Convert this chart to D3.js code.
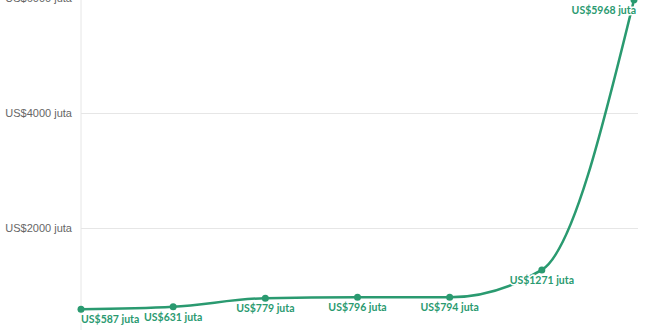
<!DOCTYPE html>
<html>
<head>
<meta charset="utf-8">
<script src="https://cdn.jsdelivr.net/npm/d3@7"></script>
<style>
  body { margin: 0; background: #fff; }
  svg { display: block; font-family: 'Source Sans Pro', Lato, 'Noto Sans', sans-serif; }
</style>
</head>
<body>
<svg id="main"></svg>
<script>
// data
let periods = ['p1', 'p2', 'p3', 'p4', 'p5', 'p6', 'p7']
let values = [587, 631, 779, 796, 794, 1271, 5968]
let yTicks = [2000, 4000, 6000]

let width = 660
let height = 330
let color = '#2a9a70'

let svg = d3.select('#main')
    .attr('width', width)
    .attr('height', height)

let xScale = d3.scalePoint()
    .domain(periods)
    .range([81, 634])

let yScale = d3.scaleLinear()
    .domain([0, 6000])
    .range([343, -2])

// gridlines + tick labels
let yAxis = d3.axisLeft(yScale)
    .tickValues(yTicks)
    .tickSize(-(638 - 81))
    .tickPadding(9)
    .tickFormat(d => `US$${d} juta`)

let yg = svg.append('g')
    .attr('transform', 'translate(81, 0)')
    .call(yAxis)
yg.select('.domain').remove()
yg.selectAll('line').attr('stroke', '#e6e6e6')
yg.selectAll('text')
    .attr('fill', '#666')
    .style('font-size', '11px')

// left axis line
svg.append('line')
    .attr('x1', 81).attr('x2', 81)
    .attr('y1', 0).attr('y2', height)
    .attr('stroke', '#e6e6e6')

let line = d3.line()
    .x((d, i) => xScale(periods[i]))
    .y(d => yScale(d))
    .curve(d3.curveMonotoneX)

svg.append('path')
    .datum(values)
    .attr('d', line)
    .attr('fill', 'none')
    .attr('stroke', color)
    .attr('stroke-width', 2.5)

svg.selectAll('circle')
    .data(values)
    .enter()
    .append('circle')
    .attr('cx', (d, i) => xScale(periods[i]))
    .attr('cy', d => yScale(d))
    .attr('r', 3.5)
    .attr('fill', color)

svg.selectAll('text.lbl')
    .data(values)
    .enter()
    .append('text')
    .attr('class', 'lbl')
    .attr('x', (d, i) => xScale(periods[i]) + (i == values.length - 1 ? 2 : 0))
    .attr('y', d => yScale(d) + 14)
    .attr('text-anchor', (d, i) => i == 0 ? 'start' : (i == values.length - 1 ? 'end' : 'middle'))
    .attr('fill', color)
    .style('font-size', '10.5px')
    .style('font-weight', 'bold')
    .attr('stroke', '#fff')
    .attr('stroke-width', 3)
    .attr('paint-order', 'stroke')
    .text(d => `US$${d} juta`)
</script>
</body>
</html>
